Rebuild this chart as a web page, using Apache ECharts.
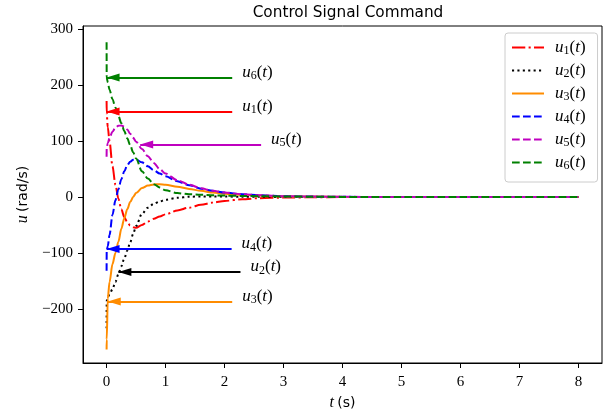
<!DOCTYPE html>
<html>
<head>
<meta charset="utf-8">
<script src="https://cdn.jsdelivr.net/npm/echarts@6/dist/echarts.min.js"></script>
<style>html,body{margin:0;padding:0;background:#fff}#c{width:606px;height:418px}</style>
</head>
<body>
<div id="c"></div>
<script>
// ---- data ----
const tSec = [0, 0.002, 0.02, 0.05, 0.1, 0.15, 0.2, 0.25, 0.3, 0.35, 0.4, 0.45, 0.5, 0.6, 0.7, 0.8, 0.9, 1.0, 1.2, 1.4, 1.6, 1.8, 2.0, 2.3, 2.6, 3.0, 3.5, 4, 5, 6, 7, 8];
const u1 = [172, 150, 125, 100, 55, 22, -3, -22, -36, -45, -51, -54, -55, -50, -44, -39, -35, -31, -24, -19, -14, -10, -7, -4, -2, -1, -0.5, 0, 0, 0, 0, 0];
const u2 = [-235, -185, -180, -174, -165, -152, -138, -124, -110, -96, -81, -66, -52, -30, -19, -12, -8, -5, -1.5, 0.5, 1, 1, 0.8, 0.5, 0.3, 0.2, 0, 0, 0, 0, 0, 0];
const u3 = [-273, -255, -182, -152, -120, -100, -80, -57, -38, -22, -9, 0, 7, 16, 20.5, 22.5, 23, 22, 18.5, 14.5, 11, 8, 6, 4, 2.5, 1.5, 0.7, 0.3, 0, 0, 0, 0];
const u4 = [-132, -95, -88, -68, -32, -6, 14, 32, 46, 57, 63, 66.5, 67, 62, 55, 48, 42, 37, 28, 21, 15, 11, 8, 5, 3, 1.5, 0.7, 0.3, 0, 0, 0, 0];
const u5 = [72, 88, 96, 106, 117, 124, 127.5, 128, 126, 121, 113, 106, 99, 86, 73, 61, 50, 42, 30, 22, 15.5, 11, 8, 5, 3, 1.5, 0.8, 0.3, 0, 0, 0, 0];
const u6 = [277, 214, 205, 192, 175, 160, 145, 132, 118, 105, 93, 80, 69, 46, 33, 23, 17, 12, 7, 5, 4, 3, 2.5, 2, 1.5, 1, 0.5, 0.2, 0, 0, 0, 0];
const seriesNames = ['u1(t)', 'u2(t)', 'u3(t)', 'u4(t)', 'u5(t)', 'u6(t)'];
const xTicks = [0, 1, 2, 3, 4, 5, 6, 7, 8];
const yTicks = [-200, -100, 0, 100, 200, 300];
// annotation arrows: tip time, value, tail time
const annoTipT = [0, 0.2, 0.02, 0, 0.57, 0];
const annoU = [153, -134, -187, -93, 94, 214];
const annoTailT = [2.13, 2.27, 2.13, 2.12, 2.62, 2.13];

// ---- styles ----
const colors = ['#ff0000', '#000000', '#ff8c00', '#0000ff', '#bf00bf', '#008000'];
const dashes = [[13.3, 3.3, 2.1, 3.3], [2.1, 3.3], 'solid', [7.7, 3.3], [7.7, 3.3], [7.7, 3.3]];
const serif = 'Liberation Serif';
const richMath = {
  i: { fontFamily: serif, fontStyle: 'italic', fontSize: 17, color: '#000' },
  n: { fontFamily: serif, fontSize: 17, color: '#000' },
  s: { fontFamily: serif, fontSize: 12, color: '#000', padding: [7, 0, 0, 0] }
};
function mathName(name) {
  const k = name.charAt(1);
  return '{i|u}{s|' + k + '}{n|(}{i|t}{n|)}';
}

const series = seriesNames.map((nm, i) => ({
  name: nm,
  type: 'line',
  data: tSec.map((t, j) => [t, [u1, u2, u3, u4, u5, u6][i][j]]),
  symbol: 'none',
  smooth: 0.3,
  smoothMonotone: 'x',
  animation: false,
  color: colors[i],
  lineStyle: { color: colors[i], width: 2, type: dashes[i] },
  markLine: {
    silent: true,
    animation: false,
    symbol: ['triangle', 'none'],
    symbolSize: [8, 13],
    symbolOffset: [[0, 6.5], [0, 0]],
    lineStyle: { color: colors[i], width: 1.8, type: 'solid' },
    label: {
      show: true, position: 'end', distance: 10,
      padding: [0, 0, 10, 0],
      formatter: () => mathName(nm),
      rich: richMath
    },
    data: [[{ coord: [annoTipT[i], annoU[i]] }, { coord: [annoTailT[i], annoU[i]] }]]
  }
}));

const chart = echarts.init(document.getElementById('c'), null, { renderer: 'canvas' });
chart.setOption({
  animation: false,
  backgroundColor: '#fff',
  title: {
    text: 'Control Signal Command',
    left: 343, top: 1, textAlign: 'center',
    textStyle: { fontFamily: 'DejaVu Sans', fontSize: 15.3, fontWeight: 'normal', color: '#000' }
  },
  grid: { left: 83, right: 4, top: 26, bottom: 55, show: true, borderColor: '#000', borderWidth: 1, containLabel: false },
  legend: {
    orient: 'vertical', left: 505, top: 33,
    padding: [6, 12, 10, 6],
    itemWidth: 32, itemHeight: 14, itemGap: 5,
    backgroundColor: 'rgba(255,255,255,0.85)', borderColor: '#cccccc', borderWidth: 1, borderRadius: 3,
    itemStyle: { opacity: 0 },
    formatter: mathName,
    textStyle: { padding: [0, 0, 0, 6], rich: richMath },
    data: seriesNames
  },
  xAxis: {
    type: 'value', min: -0.4, max: 8.4,
    name: '{i|t} {n|(s)}', nameLocation: 'middle', nameGap: 32,
    nameTextStyle: { rich: { i: { fontFamily: serif, fontStyle: 'italic', fontSize: 16, color: '#000' }, n: { fontFamily: 'DejaVu Sans', fontSize: 14, color: '#000' } } },
    axisLine: { show: true, onZero: false, lineStyle: { color: '#000', width: 1 } },
    axisTick: { show: true, length: 5, customValues: xTicks, lineStyle: { color: '#000' } },
    axisLabel: { customValues: xTicks, margin: 12, fontFamily: serif, fontSize: 15, color: '#000' },
    splitLine: { show: false }
  },
  yAxis: {
    type: 'value', min: -297, max: 306,
    name: '{i|u} {n|(rad/s)}', nameLocation: 'middle', nameGap: 48, nameRotate: 90,
    nameTextStyle: { rich: { i: { fontFamily: serif, fontStyle: 'italic', fontSize: 16, color: '#000' }, n: { fontFamily: 'DejaVu Sans', fontSize: 14, color: '#000' } } },
    axisLine: { show: true, onZero: false, lineStyle: { color: '#000', width: 1 } },
    axisTick: { show: true, length: 5, customValues: yTicks, lineStyle: { color: '#000' } },
    axisLabel: { customValues: yTicks, margin: 10, fontFamily: serif, fontSize: 15, color: '#000',
      formatter: v => String(v).replace('-', '\u2212') },
    splitLine: { show: false }
  },
  series: series
});
</script>
</body>
</html>
